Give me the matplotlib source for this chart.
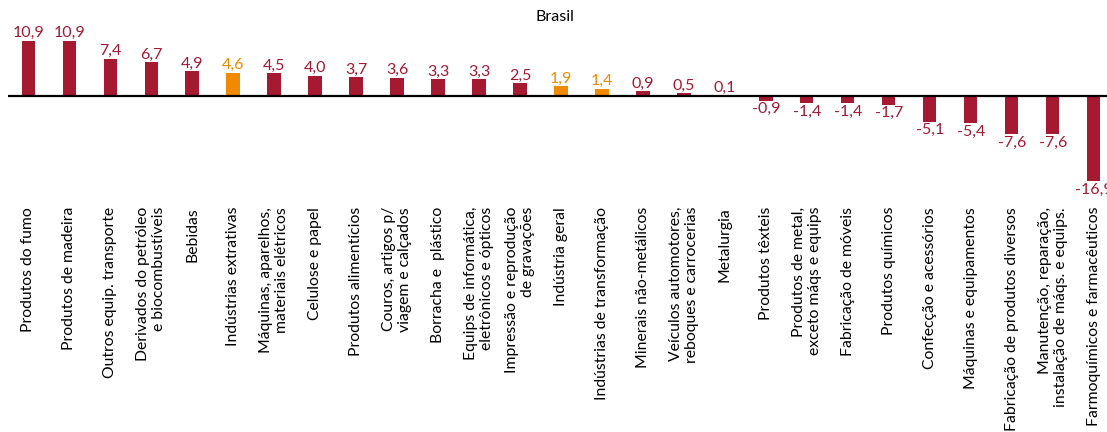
import numpy as np
import matplotlib.pyplot as plt

plt.rcParams['font.family'] = ['Lato', 'DejaVu Sans']

setores = [
    'Produtos do fumo', 'Produtos de madeira', 'Outros equip. transporte',
    'Derivados do petróleo\ne biocombustíveis', 'Bebidas', 'Indústrias extrativas',
    'Máquinas, aparelhos,\nmateriais elétricos', 'Celulose e papel',
    'Produtos alimentícios', 'Couros, artigos p/\nviagem e calçados',
    'Borracha e  plástico', 'Equips de informática,\neletrônicos e ópticos',
    'Impressão e reprodução\nde gravações', 'Indústria geral',
    'Indústrias de transformação', 'Minerais não-metálicos',
    'Veículos automotores,\nreboques e carrocerias', 'Metalurgia',
    'Produtos têxteis', 'Produtos de metal,\nexceto máqs e equips',
    'Fabricação de móveis', 'Produtos químicos', 'Confecção e acessórios',
    'Máquinas e equipamentos', 'Fabricação de produtos diversos',
    'Manutenção, reparação,\ninstalação de máqs. e equips.',
    'Farmoquímicos e farmacêuticos',
]
valores = [10.9, 10.9, 7.4, 6.7, 4.9, 4.6, 4.5, 4.0, 3.7, 3.6, 3.3, 3.3, 2.5,
           1.9, 1.4, 0.9, 0.5, 0.1, -0.9, -1.4, -1.4, -1.7, -5.1, -5.4, -7.6,
           -7.6, -16.9]
destaque = ['Indústrias extrativas', 'Indústria geral', 'Indústrias de transformação']

vermelho = '#A51931'
laranja = '#F08A00'

W, H = 1107, 432
fig = plt.figure(figsize=(W / 100, H / 100), dpi=100)
ax = fig.add_axes([8 / W, 1 - 200 / H, (W - 8) / W, 200 / H])

x = np.arange(len(valores))
cores = [laranja if s in destaque else vermelho for s in setores]
ax.bar(x, valores, width=0.32, color=cores, zorder=2)
ax.axhline(0, color='black', lw=1.6, zorder=3)

for xi, v, c in zip(x, valores, cores):
    txt = '{:.1f}'.format(v).replace('.', ',')
    if v >= 0:
        ax.annotate(txt, (xi, v), xytext=(0, 0.5), textcoords='offset points',
                    ha='center', va='bottom', color=c, fontsize=11.5)
    else:
        ax.annotate(txt, (xi, v), xytext=(0, -1), textcoords='offset points',
                    ha='center', va='top', color=c, fontsize=11.5)

ax.set_xlim(-0.49, 26.32)
ax.set_ylim(-20.63, 19.05)
ax.set_xticks(x)
ax.set_xticklabels(setores, rotation=90, fontsize=11.3, multialignment='right',
                   linespacing=1.12)
ax.tick_params(axis='x', length=0, pad=5)
ax.set_yticks([])
for s in ax.spines.values():
    s.set_visible(False)
ax.patch.set_alpha(0)

fig.text(555 / W, 1 - 17 / H, 'Brasil', ha='center', va='center', fontsize=11.5)

fig.savefig('out.png', dpi=100)
